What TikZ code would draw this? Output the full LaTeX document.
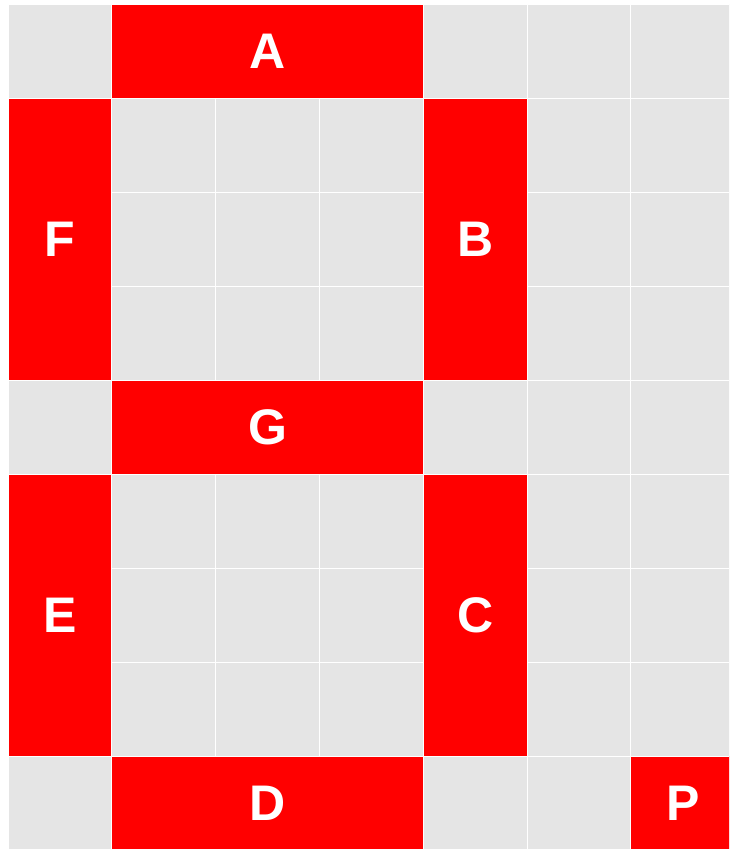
\documentclass[tikz,border=0pt]{standalone}
\usepackage{fontspec}
\setmainfont{Liberation Sans}
\usetikzlibrary{positioning}
\definecolor{panelgray}{HTML}{E5E5E5}
\definecolor{segred}{HTML}{FF0000}

\begin{document}
\begin{tikzpicture}[x=1pt, y=-1pt,
    cell/.style={fill=panelgray, draw=white, line width=1pt},
    seg/.style={fill=segred, draw=white, line width=1pt, inner sep=0pt,
        text=white, font=\fontsize{50}{50}\selectfont\bfseries},
    hseg/.style={seg, minimum width=311.4pt, minimum height=94pt},
    vseg/.style={seg, minimum width=103.8pt, minimum height=282pt},
    dotseg/.style={seg, minimum width=103.8pt, minimum height=94pt}]
    \useasboundingbox (0,0) rectangle (729,849);
    \clip (0,0) rectangle (729,849);
    \def\cw{103.8}
    \def\rh{94}

    % grille de fond
    \foreach \i in {0,...,6}
        \foreach \j in {0,...,8}
            \draw[cell] ({8+\i*\cw},{4+\j*\rh}) rectangle ++(\cw,\rh);

    % segments
    \node[hseg] (A) at ({8+2.5*\cw},{4+0.5*\rh}) {A};
    \node[vseg] (F) at ({8+0.5*\cw},{4+2.5*\rh}) {F};
    \node[vseg] (B) at ({8+4.5*\cw},{4+2.5*\rh}) {B};
    \node[hseg] (G) at ({8+2.5*\cw},{4+4.5*\rh}) {G};
    \node[vseg] (E) at ({8+0.5*\cw},{4+6.5*\rh}) {E};
    \node[vseg] (C) at ({8+4.5*\cw},{4+6.5*\rh}) {C};
    \node[hseg] (D) at ({8+2.5*\cw},{4+8.5*\rh}) {D};

    % point decimal
    \node[dotseg] (P) at ({8+6.5*\cw},{4+8.5*\rh}) {P};
\end{tikzpicture}
\end{document}
